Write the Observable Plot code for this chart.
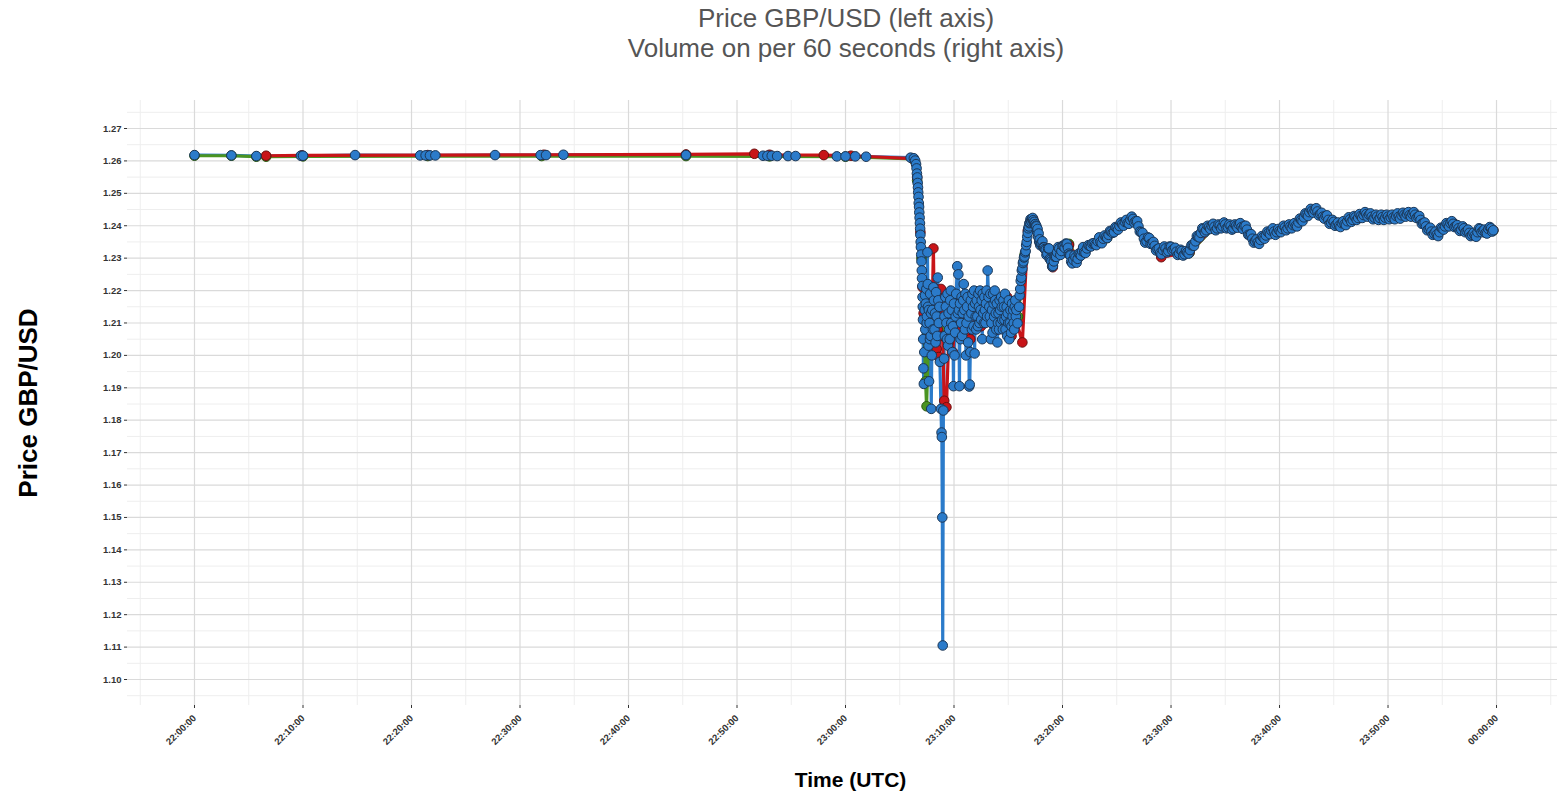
<!DOCTYPE html>
<html><head><meta charset="utf-8">
<script src="https://cdn.jsdelivr.net/npm/d3@7"></script>
<script src="https://cdn.jsdelivr.net/npm/@observablehq/plot@0.6"></script>
<style>
body{margin:0;background:#fff;font-family:"Liberation Sans",Arial,sans-serif;}
#title{height:70px;box-sizing:border-box;padding-top:3px;padding-left:132px;text-align:center;color:#555;font-size:26px;line-height:30px;}
#chart svg{font-family:"Liberation Sans",Arial,sans-serif;color:#333;}
</style></head><body>
<div id="title"><div>Price GBP/USD (left axis)</div><div>Volume on per 60 seconds (right axis)</div></div>
<div id="chart"></div>
<script>
// minutes after 22:00:00 UTC, price GBP/USD
const blueSeries = [
[0,1.2618],[3.4,1.2617],[5.7,1.2615],[9.8,1.2616],[10.0,1.2616],[14.8,1.2618],[20.8,1.2617],[21.3,1.2617],[21.7,1.2617],[22.2,1.2617],[27.7,1.2618],[31.9,1.2618],[32.4,1.2618],[34.0,1.2619],[45.3,1.2618],[52.4,1.2616],[52.8,1.2616],[53.2,1.2616],[53.7,1.2615],[54.7,1.2615],[55.4,1.2615],[59.2,1.2614],[60.0,1.2614],[60.9,1.2614],[61.9,1.2613],[66.0,1.2610],
[66.30,1.2608],[66.42,1.2601],[66.50,1.2590],[66.55,1.2577],[66.58,1.2561],[66.62,1.2549],[66.65,1.2532],[66.68,1.2518],[66.70,1.2503],[66.73,1.2489],[66.75,1.2470],[66.78,1.2458],[66.80,1.2441],[66.83,1.2425],[66.86,1.2408],[66.88,1.2391],[66.90,1.2372],[66.93,1.2350],[66.95,1.2334],[66.98,1.2311],[67.00,1.2290],[67.03,1.2262],[67.05,1.2238],[67.08,1.2214],[67.10,1.2180],[67.12,1.2150],[67.14,1.2110],[67.16,1.2050],[67.18,1.1960],[67.22,1.1912],[67.26,1.2010],[67.30,1.2140],[67.35,1.2080],[67.40,1.2160],[67.45,1.2205],[67.50,1.2120],[67.55,1.2318],[67.60,1.2150],[67.65,1.2030],[67.70,1.1920],[67.75,1.2100],[67.80,1.2190],[67.85,1.2060],[67.90,1.1835],[67.95,1.2000],[68.00,1.2140],[68.10,1.2210],[68.20,1.2080],[68.30,1.2040],[68.40,1.2120],[68.50,1.2240],[68.60,1.2100],[68.70,1.1980],[68.80,1.1835],[68.85,1.1762],[68.88,1.1748],[68.92,1.1500],[68.96,1.1105],[69.02,1.1830],[69.08,1.1990],[69.15,1.2060],[69.25,1.2150],[69.35,1.2050],[69.45,1.2030],[69.55,1.2080],[69.65,1.2170],[69.75,1.2100],[69.85,1.2010],[69.95,1.1905],[70.05,1.2000],[70.15,1.2120],[70.30,1.2275],[70.40,1.2250],[70.45,1.2140],[70.50,1.1905],[70.60,1.2050],[70.70,1.2180],[70.80,1.2130],[70.90,1.2220],[71.00,1.2080],[71.10,1.2000],[71.20,1.2150],[71.30,1.2040],[71.40,1.1904],[71.45,1.1910],[71.50,1.2010],[71.60,1.2130],[71.70,1.2190],[71.80,1.2090],[71.90,1.2006],[72.00,1.2120],[72.10,1.2170],[72.20,1.2090],[72.30,1.2150],[72.40,1.2200],[72.50,1.2110],[72.60,1.2050],[72.70,1.2130],[72.80,1.2180],[72.90,1.2100],[73.00,1.2200],[73.10,1.2262],[73.18,1.2180],[73.30,1.2120],[73.40,1.2050],[73.50,1.2140],[73.60,1.2190],[73.70,1.2120],[73.80,1.2170],[73.90,1.2080],[74.00,1.2040],[74.10,1.2130],[74.20,1.2170],[74.30,1.2100],[74.40,1.2150],[74.50,1.2080],[74.60,1.2150],[74.70,1.2190],[74.80,1.2120],[74.90,1.2060],[75.00,1.2100],[75.10,1.2050],[75.20,1.2140],[75.30,1.2090],[75.40,1.2120],[75.50,1.2100],[75.60,1.2150],[75.70,1.2120],
[75.85,1.2099],[76.00,1.2150],[76.10,1.2205],[76.20,1.2240],[76.30,1.2268],[76.40,1.2290],[76.50,1.2305],[76.60,1.2322],[76.70,1.2350],[76.80,1.2378],[76.90,1.2398],[77.00,1.2410],[77.10,1.2416],[77.20,1.2421],[77.30,1.2417],[77.40,1.2412],[77.50,1.2405],[77.60,1.2398],[77.70,1.2390],[77.80,1.2376],[77.90,1.2358],[78.00,1.2345],[78.15,1.2352],[78.30,1.2333],[78.45,1.2326],[78.60,1.2314],[78.75,1.2330],[78.90,1.2295],[79.05,1.2274],[79.20,1.2290],[79.35,1.2305],[79.50,1.2318],[79.70,1.2330],[79.90,1.2322],[80.10,1.2338],[80.30,1.2345],[80.50,1.2332],[80.65,1.2310],[80.80,1.2289],[81.00,1.2294],[81.20,1.2302],[81.40,1.2298],[81.60,1.2312],[81.80,1.2322],[82.00,1.2318],[82.25,1.2330],[82.50,1.2338],[82.75,1.2345],[83.00,1.2342],[83.25,1.2352],[83.50,1.2350],[83.75,1.2360],[84.00,1.2365],[84.25,1.2372],[84.50,1.2382],[84.75,1.2380],[85.00,1.2394],[85.25,1.2399],[85.50,1.2405],[85.75,1.2412],[86.00,1.2408],[86.25,1.2418],[86.50,1.2421],[86.75,1.2414],[87.00,1.2398],[87.25,1.2380],[87.50,1.2360],[87.75,1.2352],[88.00,1.2362],[88.25,1.2345],[88.50,1.2338],[88.75,1.2328],[89.00,1.2316],[89.25,1.2325],[89.50,1.2330],[89.75,1.2322],[90.00,1.2335],[90.25,1.2328],[90.50,1.2320],[90.75,1.2314],[91.00,1.2322],[91.25,1.2312],[91.50,1.2318],[91.75,1.2325],[92.00,1.2340],[92.25,1.2352],[92.50,1.2366],[92.75,1.2378],[93.00,1.2390],[93.25,1.2386],[93.50,1.2396],[93.75,1.2400],[94.00,1.2397],[94.25,1.2392],[94.50,1.2401],[94.75,1.2398],[95.00,1.2404],[95.25,1.2395],[95.50,1.2399],[95.75,1.2392],[96.00,1.2400],[96.25,1.2404],[96.50,1.2396],[96.75,1.2399],[97.00,1.2388],[97.25,1.2372],[97.50,1.2360],[97.75,1.2352],[98.00,1.2349],[98.25,1.2356],[98.50,1.2364],[98.75,1.2370],[99.00,1.2378],[99.25,1.2385],[99.50,1.2382],[99.75,1.2380],[100.00,1.2384],[100.25,1.2390],[100.50,1.2395],[100.75,1.2392],[101.00,1.2398],[101.25,1.2402],[101.50,1.2400],[101.75,1.2410],[102.00,1.2418],[102.25,1.2426],[102.50,1.2435],[102.75,1.2442],[103.00,1.2446],[103.25,1.2448],[103.50,1.2444],[103.75,1.2436],[104.00,1.2428],[104.25,1.2430],[104.50,1.2418],[104.75,1.2410],[105.00,1.2412],[105.25,1.2404],[105.50,1.2400],[105.75,1.2408],[106.00,1.2405],[106.25,1.2414],[106.50,1.2420],[106.75,1.2418],[107.00,1.2426],[107.25,1.2424],[107.50,1.2430],[107.75,1.2433],[108.00,1.2436],[108.25,1.2434],[108.50,1.2428],[108.75,1.2425],[109.00,1.2428],[109.25,1.2424],[109.50,1.2427],[109.75,1.2425],[110.00,1.2428],[110.25,1.2426],[110.50,1.2426],[110.75,1.2430],[111.00,1.2428],[111.25,1.2432],[111.50,1.2434],[111.75,1.2436],[112.00,1.2433],[112.25,1.2436],[112.50,1.2434],[112.75,1.2428],[113.00,1.2418],[113.25,1.2408],[113.50,1.2398],[113.75,1.2390],[114.00,1.2382],[114.25,1.2376],[114.50,1.2373],[114.75,1.2380],[115.00,1.2392],[115.25,1.2398],[115.50,1.2404],[115.75,1.2408],[116.00,1.2406],[116.25,1.2398],[116.50,1.2392],[116.75,1.2388],[117.00,1.2392],[117.25,1.2384],[117.50,1.2378],[117.75,1.2372],[118.00,1.2370],[118.25,1.2380],[118.50,1.2390],[118.75,1.2385],[119.00,1.2378],[119.25,1.2390],[119.50,1.2392],[119.70,1.2386]
];
// further blue ticks read between the ones above (crash cluster and recovery band)
const blueSeriesExtra = [
[67.33,1.2185],[67.48,1.2100],[67.58,1.2220],[67.68,1.2140],[67.78,1.2050],[67.88,1.2130],[68.05,1.2080],[68.15,1.2170],[68.25,1.2130],[68.35,1.2195],[68.45,1.2060],[68.55,1.2170],[68.65,1.2150],[69.12,1.2120],[69.20,1.2180],[69.30,1.2100],[69.40,1.2190],[69.50,1.2130],[69.60,1.2050],[69.70,1.2200],[69.80,1.2140],[69.90,1.2090],[70.00,1.2160],[70.10,1.2070],[70.20,1.2190],[70.35,1.2130],[70.55,1.2160],[70.65,1.2100],[70.75,1.2060],[70.85,1.2170],[70.95,1.2140],[71.05,1.2190],[71.15,1.2100],[71.25,1.2180],[71.35,1.2120],[71.55,1.2170],[71.65,1.2080],[71.75,1.2150],[71.85,1.2200],[71.95,1.2160],[72.05,1.2080],[72.15,1.2120],[72.25,1.2190],[72.35,1.2100],[72.45,1.2140],[72.55,1.2170],[72.65,1.2190],[72.75,1.2100],[72.85,1.2140],[72.95,1.2160],[73.05,1.2120],[73.25,1.2150],[73.35,1.2190],[73.45,1.2100],[73.55,1.2070],[73.65,1.2160],[73.75,1.2200],[73.85,1.2130],[73.95,1.2160],[74.05,1.2100],[74.15,1.2080],[74.25,1.2140],[74.35,1.2180],[74.45,1.2110],[74.55,1.2170],[74.65,1.2110],[74.75,1.2080],[74.85,1.2150],[74.95,1.2130],[75.05,1.2170],[75.15,1.2100],[75.25,1.2070],[75.35,1.2160],[75.45,1.2140],[75.55,1.2080],[75.65,1.2170],[75.75,1.2140],
[76.05,1.2185],[76.15,1.2230],[76.25,1.2262],[76.35,1.2285],[76.45,1.2302],[76.55,1.2318],[76.65,1.2340],[76.75,1.2366],[76.85,1.2392],[76.95,1.2408],[77.05,1.2420],[77.15,1.2412],[77.25,1.2424],[77.35,1.2410],[77.45,1.2404],[77.55,1.2400],[77.65,1.2384],[77.75,1.2366],[77.85,1.2350],[77.95,1.2340],
[78.07,1.2345],[78.22,1.2334],[78.37,1.2328],[78.52,1.2310],[78.67,1.2330],[78.82,1.2298],[78.97,1.2290],[79.12,1.2276],[79.27,1.2305],[79.42,1.2304],[79.60,1.2334],[79.80,1.2310],[80.00,1.2338],[80.20,1.2332],[80.40,1.2344],[80.58,1.2314],[80.72,1.2308],[80.90,1.2284],[81.10,1.2308],[81.30,1.2286],[81.50,1.2314],[81.70,1.2308],[81.90,1.2334],[82.12,1.2316],[82.38,1.2340],[82.62,1.2336],[82.88,1.2346],[83.12,1.2340],[83.38,1.2364],[83.62,1.2346],[83.88,1.2370],[84.12,1.2362],[84.38,1.2384],[84.62,1.2378],[84.88,1.2396],[85.12,1.2388],[85.38,1.2410],[85.62,1.2400],[85.88,1.2418],[86.12,1.2406],[86.38,1.2428],[86.62,1.2410],[86.88,1.2414],[87.12,1.2382],[87.38,1.2378],[87.62,1.2348],[87.88,1.2364],[88.12,1.2344],[88.38,1.2350],[88.62,1.2324],[88.88,1.2330],[89.12,1.2312],[89.38,1.2336],[89.62,1.2318],[89.88,1.2336],[90.12,1.2324],[90.38,1.2332],[90.62,1.2310],[90.88,1.2326],[91.12,1.2308],[91.38,1.2322],[91.62,1.2314],[91.88,1.2340],[92.12,1.2338],[92.38,1.2368],[92.62,1.2364],[92.88,1.2392],[93.12,1.2380],[93.38,1.2400],[93.62,1.2390],[93.88,1.2406],[94.12,1.2386],[94.38,1.2404],[94.62,1.2392],[94.88,1.2410],[95.12,1.2392],[95.38,1.2404],[95.62,1.2388],[95.88,1.2404],[96.12,1.2394],[96.38,1.2408],[96.62,1.2390],[96.88,1.2400],[97.12,1.2372],[97.38,1.2374],[97.62,1.2348],[97.88,1.2358],[98.12,1.2344],[98.38,1.2368],[98.62,1.2360],[98.88,1.2382],[99.12,1.2374],[99.38,1.2392],[99.62,1.2372],[99.88,1.2390],[100.12,1.2380],[100.38,1.2400],[100.62,1.2386],[100.88,1.2404],[101.12,1.2392],[101.38,1.2408],[101.62,1.2398],[101.88,1.2422],[102.12,1.2414],[102.38,1.2438],[102.62,1.2430],[102.88,1.2452],[103.12,1.2440],[103.38,1.2454],[103.62,1.2432],[103.88,1.2440],[104.12,1.2422],[104.38,1.2432],[104.62,1.2406],[104.88,1.2418],[105.12,1.2400],[105.38,1.2410],[105.62,1.2396],[105.88,1.2414],[106.12,1.2402],[106.38,1.2426],[106.62,1.2412],[106.88,1.2430],[107.12,1.2418],[107.38,1.2436],[107.62,1.2424],[107.88,1.2442],[108.12,1.2428],[108.38,1.2438],[108.62,1.2420],[108.88,1.2434],[109.12,1.2418],[109.38,1.2434],[109.62,1.2418],[109.88,1.2434],[110.12,1.2420],[110.38,1.2434],[110.62,1.2420],[110.88,1.2438],[111.12,1.2422],[111.38,1.2440],[111.62,1.2428],[111.88,1.2442],[112.12,1.2428],[112.38,1.2442],[112.62,1.2424],[112.88,1.2430],[113.12,1.2406],[113.38,1.2410],[113.62,1.2386],[113.88,1.2394],[114.12,1.2372],[114.38,1.2382],[114.62,1.2368],[114.88,1.2394],[115.12,1.2388],[115.38,1.2408],[115.62,1.2398],[115.88,1.2414],[116.12,1.2396],[116.38,1.2402],[116.62,1.2384],[116.88,1.2398],[117.12,1.2380],[117.38,1.2388],[117.62,1.2368],[117.88,1.2378],[118.12,1.2366],[118.38,1.2392],[118.62,1.2380],[118.88,1.2388],[119.12,1.2376],[119.38,1.2396],[119.60,1.2382]
];
const redSeries = [
[6.6,1.2616],[9.9,1.2617],[21.5,1.2618],[32.2,1.2619],[45.3,1.2620],[51.6,1.2622],[53.0,1.2619],[58.0,1.2618],[60.5,1.2616],[66.2,1.2607],
[66.6,1.2550],[66.9,1.2380],[67.1,1.2210],[67.2,1.2130],[67.4,1.2112],[67.6,1.2190],[67.8,1.2060],[68.0,1.2160],[68.1,1.2330],[68.15,1.2210],[68.3,1.2140],[68.4,1.2020],[68.5,1.2080],[68.6,1.1995],[68.7,1.2120],[68.8,1.2205],[68.95,1.2060],[69.1,1.1860],[69.3,1.1840],[69.5,1.2040],[69.7,1.2100],[69.9,1.2010],[70.1,1.2150],[70.3,1.2080],[70.6,1.2140],[71.0,1.2100],[71.5,1.2050],[72.0,1.2120],[72.5,1.2090],[73.0,1.2150],[73.5,1.2100],[74.0,1.2080],[74.5,1.2120],[74.9,1.2180],[75.3,1.2060],[75.8,1.2100],[76.3,1.2040],
[76.8,1.2385],[77.3,1.2420],[78.0,1.2348],[78.6,1.2318],[79.1,1.2272],[79.5,1.2316],[80.6,1.2340],[81.4,1.2300],[82.9,1.2345],[84.1,1.2366],[85.2,1.2398],[86.5,1.2421],[87.7,1.2352],[89.1,1.2303],[91.7,1.2318],[94.0,1.2398],[96.7,1.2400],[98.0,1.2350],[100.0,1.2384],[101.6,1.2400],[103.2,1.2447],[105.5,1.2401],[108.2,1.2436],[110.5,1.2426],[112.4,1.2435],[114.5,1.2374],[116.1,1.2406],[118.1,1.2370],[119.7,1.2386]
];
const greenSeries = [
[0,1.2616],[3.4,1.2616],[5.7,1.2613],[6.6,1.2613],[10.0,1.2614],[21.5,1.2615],[32.0,1.2615],[45.3,1.2615],[53.0,1.2614],[60.0,1.2613],[66.2,1.2606],
[66.6,1.2540],[67.0,1.2300],[67.2,1.2150],[67.38,1.1920],[67.47,1.1843],[67.7,1.2100],[68.2,1.2150],[69.0,1.2080],[70.0,1.2120],[71.0,1.2100],[72.0,1.2130],[73.0,1.2150],[74.0,1.2110],[75.0,1.2100],[75.9,1.2120],[76.5,1.2310],
[77.3,1.2416],[78.0,1.2344],[79.1,1.2276],[80.6,1.2344],[81.4,1.2300],[82.9,1.2344],[84.1,1.2362],[86.5,1.2418],[87.7,1.2350],[89.1,1.2316],[91.7,1.2316],[94.0,1.2396],[96.7,1.2396],[98.0,1.2348],[100.0,1.2382],[103.2,1.2446],[105.5,1.2400],[108.2,1.2434],[110.5,1.2424],[112.4,1.2433],[114.5,1.2372],[116.1,1.2405],[118.1,1.2369],[119.7,1.2385]
];
const xTickLabels = ["22:00:00","22:10:00","22:20:00","22:30:00","22:40:00","22:50:00","23:00:00","23:10:00","23:20:00","23:30:00","23:40:00","23:50:00","00:00:00"];
const yTicks = [1.10,1.11,1.12,1.13,1.14,1.15,1.16,1.17,1.18,1.19,1.20,1.21,1.22,1.23,1.24,1.25,1.26,1.27];
const xDomainMinutes = [-6.175, 125.62];
const yDomain = [1.09198, 1.27864];

const base = Date.UTC(2016, 9, 7, 22, 0, 0);
const toDate = m => new Date(base + m * 60000);
const labelToMin = s => { const [h, mi, se] = s.split(":").map(Number); return ((h * 60 + mi + se / 60) - 1320 + 1440) % 1440; };
const xTickMins = xTickLabels.map(labelToMin);
const xTickDates = xTickMins.map(toDate);
const xMinorDates = xTickMins.map(m => m - 5).concat([xTickMins[xTickMins.length - 1] + 5]).map(toDate);
const yMinor = yTicks.map(v => v - 0.005).concat([yTicks[yTicks.length - 1] + 0.005]);
const mk = arr => arr.map(([m, p]) => ({t: toDate(m), p}));
const blue = mk(blueSeries.concat(blueSeriesExtra).sort((a, b) => a[0] - b[0]));
const red = mk(redSeries), green = mk(greenSeries);

const C = {blue: "#2b7bca", blueS: "#1b3655", red: "#c81418", redS: "#6b1010", green: "#4a9422", greenS: "#2c5a12"};

const chart = Plot.plot({
  width: 1560, height: 723,
  marginLeft: 127, marginRight: 3, marginTop: 30, marginBottom: 88,
  x: {type: "utc", domain: xDomainMinutes.map(toDate)},
  y: {domain: yDomain},
  marks: [
    Plot.gridY(yMinor, {stroke: "#eeeeee", strokeOpacity: 1, strokeWidth: 1}),
    Plot.gridX(xMinorDates, {stroke: "#eeeeee", strokeOpacity: 1, strokeWidth: 1}),
    Plot.gridY(yTicks, {stroke: "#dadada", strokeOpacity: 1, strokeWidth: 1.2}),
    Plot.gridX(xTickDates, {stroke: "#dadada", strokeOpacity: 1, strokeWidth: 1.2}),
    Plot.axisY(yTicks, {tickFormat: d => d.toFixed(2), tickSize: 3, tickPadding: 3, fontSize: 9.5, fontWeight: "bold", label: null}),
    Plot.axisX(xTickDates, {tickFormat: (d, i) => xTickLabels[i], tickRotate: -45, tickSize: 3, tickPadding: 8, fontSize: 9.5, fontWeight: "bold", label: null}),
    Plot.line(blue, {x: "t", y: "p", stroke: C.blue, strokeWidth: 3.2}),
    Plot.line(green, {x: "t", y: "p", stroke: C.green, strokeWidth: 3.2}),
    Plot.line(red, {x: "t", y: "p", stroke: C.red, strokeWidth: 3.2}),
    Plot.dot(green, {x: "t", y: "p", r: 4.8, fill: C.green, stroke: C.greenS, strokeWidth: 1}),
    Plot.dot(red, {x: "t", y: "p", r: 4.8, fill: C.red, stroke: C.redS, strokeWidth: 1}),
    Plot.dot(blue, {x: "t", y: "p", r: 4.8, fill: C.blue, stroke: C.blueS, strokeWidth: 1}),
    Plot.text(["Time (UTC)"], {text: d => d, frameAnchor: "bottom", dx: 8, dy: 81, fontSize: 21, fontWeight: "bold", fill: "#000"}),
    Plot.text(["Price GBP/USD"], {text: d => d, frameAnchor: "left", dx: -99, rotate: -90, textAnchor: "middle", fontSize: 26, fontWeight: "bold", fill: "#000"})
  ]
});
document.getElementById("chart").appendChild(chart);
</script></body></html>
